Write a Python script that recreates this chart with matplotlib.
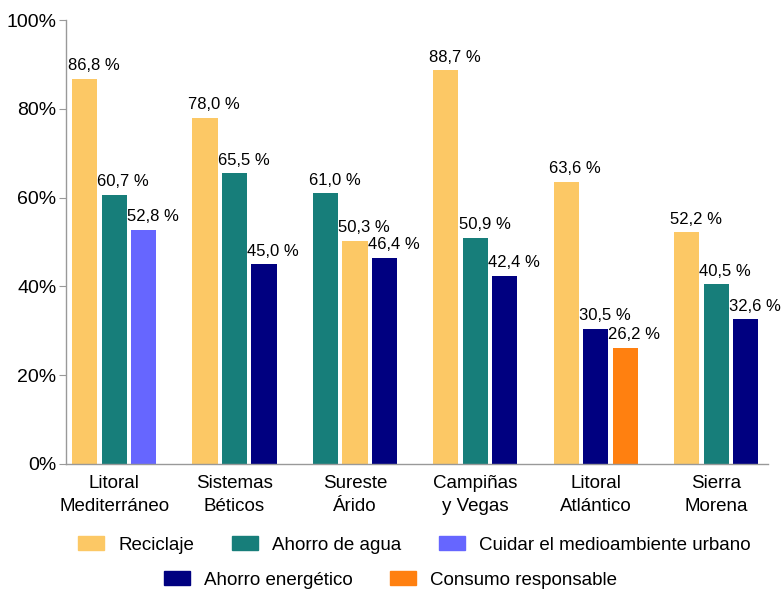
import matplotlib.pyplot as plt
from matplotlib.patches import Patch

plt.rcParams['font.family'] = ['Liberation Sans', 'DejaVu Sans']

# regiones y datos (porcentaje de respuestas por comarca)
regions = ['Litoral\nMediterráneo', 'Sistemas\nBéticos', 'Sureste\nÁrido',
           'Campiñas\ny Vegas', 'Litoral\nAtlántico', 'Sierra\nMorena']
group_cats = [
    ['Reciclaje', 'Ahorro de agua', 'Cuidar el medioambiente urbano'],
    ['Reciclaje', 'Ahorro de agua', 'Ahorro energético'],
    ['Ahorro de agua', 'Reciclaje', 'Ahorro energético'],
    ['Reciclaje', 'Ahorro de agua', 'Ahorro energético'],
    ['Reciclaje', 'Ahorro energético', 'Consumo responsable'],
    ['Reciclaje', 'Ahorro de agua', 'Ahorro energético'],
]
group_vals = [
    [86.8, 60.7, 52.8],
    [78.0, 65.5, 45.0],
    [61.0, 50.3, 46.4],
    [88.7, 50.9, 42.4],
    [63.6, 30.5, 26.2],
    [52.2, 40.5, 32.6],
]
legend_row1 = ['Reciclaje', 'Ahorro de agua', 'Cuidar el medioambiente urbano']
legend_row2 = ['Ahorro energético', 'Consumo responsable']
colors = {
    'Reciclaje': '#FCC865',
    'Ahorro de agua': '#177E7A',
    'Cuidar el medioambiente urbano': '#6666FF',
    'Ahorro energético': '#000080',
    'Consumo responsable': '#FF8010',
}

fig = plt.figure(figsize=(7.82, 5.9), dpi=100)
ax = fig.add_axes([0.0844, 0.2136, 0.8976, 0.7524])

width = 0.21
step = 0.245
for i, (cats, vals) in enumerate(zip(group_cats, group_vals)):
    for j, (c, v) in enumerate(zip(cats, vals)):
        x = i + (j - 1) * step
        ax.bar(x, v, width=width, color=colors[c], zorder=2)
        label = f'{v:.1f} %'.replace('.', ',')
        ax.annotate(label, (x - width / 2, v), xytext=(-3, 4), textcoords='offset points',
                    ha='left', va='bottom', fontsize=12)

ax.set_xlim(-0.40, 5.43)
ax.set_ylim(0, 100)
ax.set_yticks([0, 20, 40, 60, 80, 100])
ax.set_yticklabels([f'{t}%' for t in range(0, 101, 20)], fontsize=14)
ax.set_xticks(range(len(regions)))
ax.set_xticklabels(regions, fontsize=13.5, linespacing=1.42)
ax.tick_params(axis='x', length=0, pad=8)
ax.tick_params(axis='y', length=5, color='#999999', pad=2)
for s in ['top', 'right']:
    ax.spines[s].set_visible(False)
for s in ['left', 'bottom']:
    ax.spines[s].set_color('#999999')
    ax.spines[s].set_linewidth(1.0)

h1 = [Patch(color=colors[c], label=c) for c in legend_row1]
h2 = [Patch(color=colors[c], label=c) for c in legend_row2]
leg_kw = dict(frameon=False, fontsize=13.5, handlelength=1.4, handleheight=0.7,
              handletextpad=0.75, columnspacing=2.0, loc='center')
fig.legend(handles=h1, ncol=3, bbox_to_anchor=(0.530, 0.0763), **leg_kw)
fig.legend(handles=h2, ncol=2, bbox_to_anchor=(0.4994, 0.017), **leg_kw)

fig.savefig('out.png', dpi=100)
